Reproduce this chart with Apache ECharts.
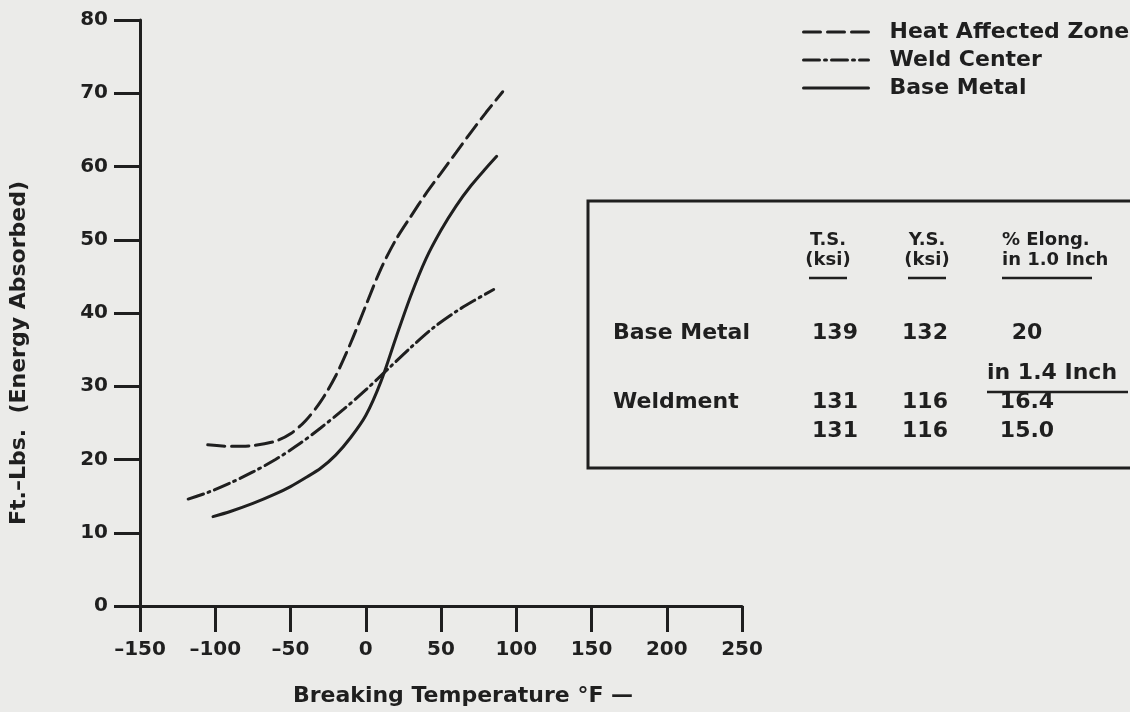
<!DOCTYPE html>
<html>
<head>
<meta charset="utf-8">
<script src="https://cdn.jsdelivr.net/npm/echarts@6/dist/echarts.min.js"></script>
<style>
  html, body { margin: 0; padding: 0; background: #ebebe9; }
  #chart { width: 1130px; height: 712px; }
</style>
</head>
<body>
<div id="chart"></div>
<script>
// Impact energy absorbed vs. breaking temperature, [°F, ft-lbs]
const heatAffectedZone = [[-105, 22.0], [-90, 21.8], [-75, 21.9], [-60, 22.5], [-50, 23.5], [-40, 25.3], [-30, 27.9], [-20, 31.4], [-10, 35.9], [0, 41.0], [10, 46.0], [20, 50.0], [30, 53.2], [40, 56.3], [50, 59.1], [60, 61.9], [70, 64.7], [80, 67.4], [91, 70.2]];
const weldCenter = [[-118, 14.6], [-105, 15.5], [-90, 16.8], [-75, 18.3], [-60, 20.0], [-45, 22.0], [-30, 24.3], [-15, 26.8], [0, 29.5], [15, 32.4], [30, 35.3], [45, 38.0], [60, 40.2], [72, 41.7], [85, 43.2]];
const baseMetal = [[-101.5, 12.2], [-90, 12.9], [-75, 14.0], [-60, 15.3], [-50, 16.3], [-40, 17.5], [-30, 18.8], [-20, 20.6], [-10, 23.0], [0, 26.0], [10, 30.6], [20, 36.6], [30, 42.4], [40, 47.4], [50, 51.3], [60, 54.6], [70, 57.4], [80, 59.8], [87, 61.4]];
const seriesNames = ['Heat Affected Zone', 'Weld Center', 'Base Metal'];

// Axis ranges: [min, max, interval]
const xRange = [-150, 250, 50];
const yRange = [0, 80, 10];

// Tensile property table
const tableHeads = ['T.S.', 'Y.S.', '% Elong.'];
const tableUnits = ['(ksi)', '(ksi)', 'in 1.0 Inch'];
const tableRowNames = ['Base Metal', 'Weldment'];
const baseMetalProps = ['139', '132', '20'];
const weldProps1 = ['131', '116', '16.4'];
const weldProps2 = ['131', '116', '15.0'];
const weldGaugeNote = 'in 1.4 Inch';

const INK = '#1f1f1f';
const FONT = 'DejaVu Sans';

function txt(text, x, y, size, align) {
  return {
    type: 'text', silent: true,
    style: {
      text: text, x: x, y: y, fill: INK,
      font: 'bold ' + size + 'px "' + FONT + '"',
      textAlign: align || 'center', textVerticalAlign: 'middle'
    }
  };
}
function rule(x1, x2, y, w) {
  return {
    type: 'line', silent: true,
    shape: { x1: x1, y1: y, x2: x2, y2: y },
    style: { stroke: INK, lineWidth: w || 2.5 }
  };
}

// Table layout
const colX = [835, 925, 1027];
const headX = [828, 927];
const tableGraphics = [
  { type: 'rect', silent: true, shape: { x: 588, y: 201, width: 700, height: 267 },
    style: { fill: 'none', stroke: INK, lineWidth: 3 } },
  txt(tableHeads[0], headX[0], 240, 18),
  txt(tableHeads[1], headX[1], 240, 18),
  txt(tableHeads[2], 1002, 240, 18, 'left'),
  txt(tableUnits[0], headX[0], 260, 18),
  txt(tableUnits[1], headX[1], 260, 18),
  txt(tableUnits[2], 1002, 260, 18, 'left'),
  rule(headX[0] - 19, headX[0] + 19, 278),
  rule(headX[1] - 19, headX[1] + 19, 278),
  rule(1002, 1092, 278),
  txt(tableRowNames[0], 613, 333, 22, 'left'),
  txt(tableRowNames[1], 613, 402, 22, 'left'),
  txt(weldGaugeNote, 987, 373, 22, 'left'),
  rule(987, 1128, 392)
];
[baseMetalProps, weldProps1, weldProps2].forEach(function (row, i) {
  const y = [333, 402, 431][i];
  row.forEach(function (v, j) { tableGraphics.push(txt(v, colX[j], y, 22)); });
});

const lineTypes = [[17, 7], [16, 5, 2, 5], 'solid'];
const curves = [heatAffectedZone, weldCenter, baseMetal];

const chart = echarts.init(document.getElementById('chart'));
chart.setOption({
  backgroundColor: '#ebebe9',
  animation: false,
  textStyle: { fontFamily: FONT, color: INK },
  grid: { left: 140, top: 20, width: 602, height: 594 },
  legend: {
    orient: 'vertical', left: 797, top: 15,
    itemWidth: 65, itemHeight: 24, itemGap: 4,
    data: seriesNames,
    textStyle: { fontFamily: FONT, fontWeight: 'bold', fontSize: 22, color: INK, padding: [0, 0, 0, 16], lineHeight: 24 },
    lineStyle: { width: 3 },
    itemStyle: { opacity: 0 },
    selectedMode: false
  },
  xAxis: {
    type: 'value', min: xRange[0], max: xRange[1], interval: xRange[2],
    axisLine: { onZero: false, lineStyle: { color: INK, width: 3 } },
    axisTick: { inside: false, length: 26, lineStyle: { color: INK, width: 3 } },
    splitLine: { show: false },
    axisLabel: {
      margin: 34, fontSize: 20, fontWeight: 'bold', color: INK, fontFamily: FONT,
      formatter: function (v) { return String(v).replace('-', '\u2013'); }
    },
    name: 'Breaking Temperature °F —', nameLocation: 'middle', nameGap: 79,
    nameTextStyle: { fontSize: 22, fontWeight: 'bold', color: INK, fontFamily: FONT, padding: [0, 0, 0, 44] }
  },
  yAxis: {
    type: 'value', min: yRange[0], max: yRange[1], interval: yRange[2],
    axisLine: { show: true, onZero: false, lineStyle: { color: INK, width: 3 } },
    axisTick: { show: true, inside: false, length: 26, lineStyle: { color: INK, width: 3 } },
    splitLine: { show: false },
    axisLabel: { margin: 32, fontSize: 20, fontWeight: 'bold', color: INK, fontFamily: FONT },
    name: 'Ft.\u2013Lbs.  (Energy Absorbed)', nameLocation: 'middle', nameGap: 110, nameRotate: 90,
    nameTextStyle: { fontSize: 22, fontWeight: 'bold', color: INK, fontFamily: FONT, padding: [0, 80, 0, 0] }
  },
  series: curves.map(function (d, i) {
    return {
      name: seriesNames[i], type: 'line', data: d, smooth: 0.3,
      showSymbol: false, symbol: 'none',
      lineStyle: { color: INK, width: 3, type: lineTypes[i], cap: 'round' },
      itemStyle: { color: INK }
    };
  }),
  graphic: tableGraphics
});
</script>
</body>
</html>
